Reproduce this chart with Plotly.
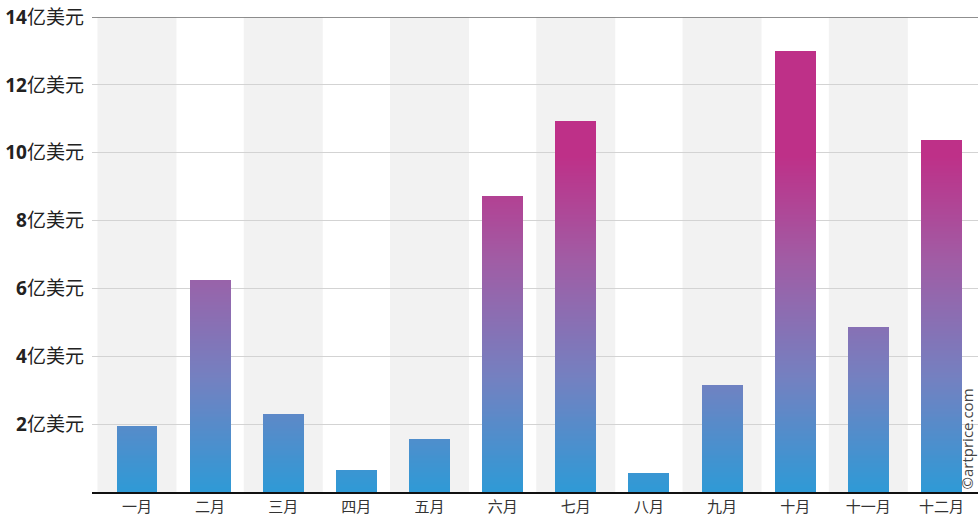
import plotly.graph_objects as go

# monthly sales, in 100 million USD (亿美元)
months = ['一月', '二月', '三月', '四月', '五月', '六月',
          '七月', '八月', '九月', '十月', '十一月', '十二月']
values = [1.92, 6.22, 2.27, 0.62, 1.56, 8.72, 10.93, 0.56, 3.15, 12.97, 4.86, 10.37]
tick_vals = [2, 4, 6, 8, 10, 12, 14]
tick_text = ['<b>%d</b>亿美元' % v for v in tick_vals]

# gradient stops (value -> colour), constant above the last stop
stops = [(0.0, (46, 154, 214)), (3.3, (115, 129, 193)),
         (6.8, (160, 93, 165)), (9.9, (190, 48, 136))]


def colour_at(v):
    if v >= stops[-1][0]:
        return 'rgb(%d,%d,%d)' % stops[-1][1]
    for (v0, c0), (v1, c1) in zip(stops[:-1], stops[1:]):
        if v0 <= v <= v1:
            t = (v - v0) / (v1 - v0)
            c = [round(a + (b - a) * t) for a, b in zip(c0, c1)]
            return 'rgb(%d,%d,%d)' % tuple(c)


# split each bar into thin slices so it can carry a vertical gradient
step = 0.05
seg_x, seg_base, seg_h, seg_col = [], [], [], []
for m, v in zip(months, values):
    b = 0.0
    while b < v - 1e-9:
        h = min(step, v - b)
        seg_x.append(m)
        seg_base.append(b)
        seg_h.append(h + (0.01 if b + h < v - 1e-9 else 0))
        seg_col.append(colour_at(b + h / 2))
        b += step

fig = go.Figure()
fig.add_trace(go.Bar(
    x=seg_x, y=seg_h, base=seg_base,
    marker=dict(color=seg_col, line=dict(width=0)),
    width=0.56, hoverinfo='skip', showlegend=False))

# alternating grey column bands
shapes = []
for i in range(0, len(months), 2):
    shapes.append(dict(type='rect', xref='x', yref='paper',
                       x0=i - 0.54, x1=i + 0.54, y0=0, y1=1,
                       fillcolor='#f2f2f2', line=dict(width=0), layer='below'))
shapes.append(dict(type='line', xref='paper', yref='y', x0=0, x1=1, y0=14, y1=14,
                   line=dict(color='#6a6a6a', width=1.5)))

fig.add_annotation(text='©artprice.com', xref='paper', yref='paper',
                   x=1, y=0, xanchor='right', yanchor='bottom',
                   textangle=-90, showarrow=False,
                   font=dict(family='Open Sans, Noto Sans CJK SC', size=15, color='#444'))

fig.update_layout(
    width=978, height=515,
    margin=dict(l=92, r=0, t=17, b=23),
    barmode='overlay', bargap=0,
    plot_bgcolor='white', paper_bgcolor='white',
    shapes=shapes,
    font=dict(family='Open Sans, Noto Sans CJK SC'),
    xaxis=dict(range=[-0.615, 11.5], showgrid=False, ticks='',
               showline=True, linecolor='#111', linewidth=2,
               tickfont=dict(size=15, color='#333'),
               categoryorder='array', categoryarray=months,
               automargin=False),
    yaxis=dict(range=[0, 14], tickvals=tick_vals, ticktext=tick_text,
               showgrid=True, gridcolor='#d3d3d3', gridwidth=1,
               zeroline=False, ticks='', automargin=False,
               ticklabelstandoff=7,
               tickfont=dict(size=19, color='#222')),
)

fig.write_html("out.html", config={'displayModeBar': False},
               post_script="document.body.style.margin='0';document.body.style.overflow='hidden';")
